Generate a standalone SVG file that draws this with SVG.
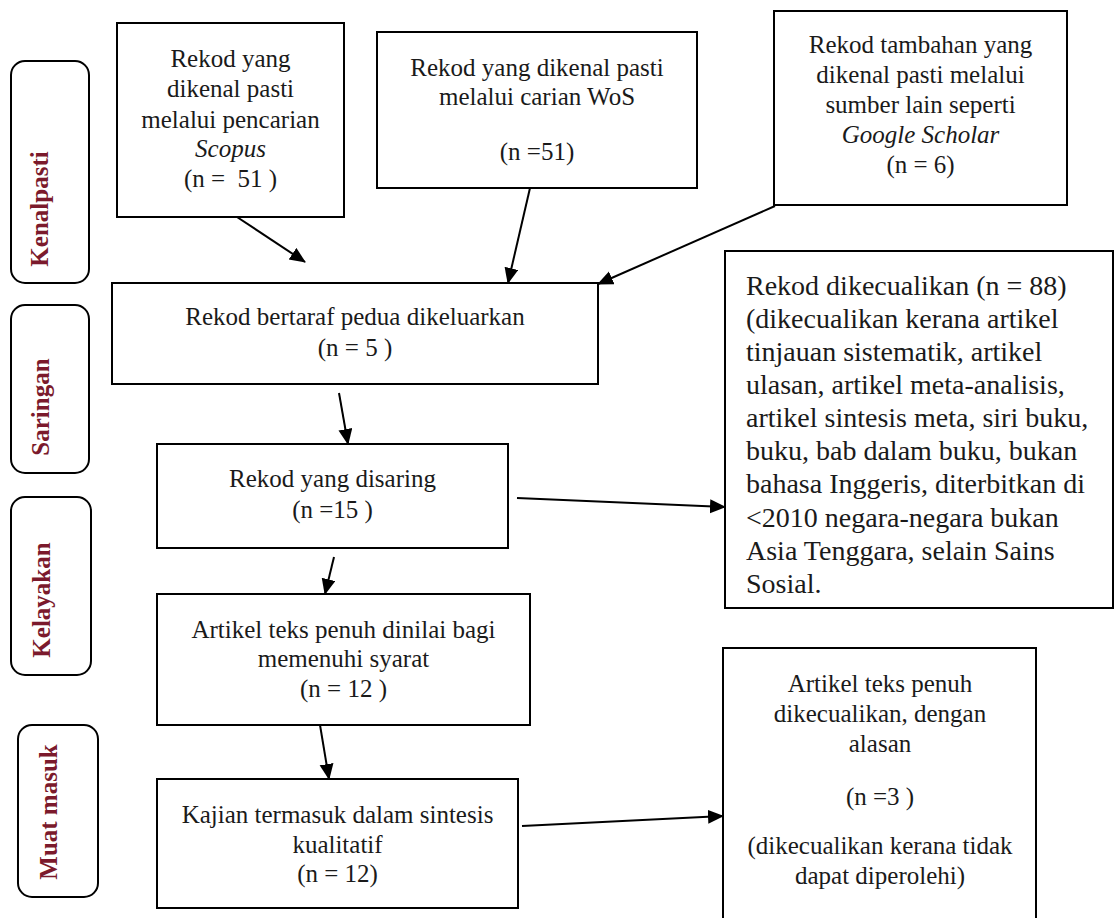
<svg xmlns="http://www.w3.org/2000/svg" width="1114" height="918" viewBox="0 0 1114 918">
<defs>
<marker id="ah" markerUnits="userSpaceOnUse" markerWidth="17" markerHeight="15" refX="15" refY="7" orient="auto">
<path d="M0,0 L16,7 L0,14 Z" fill="#000"/>
</marker>
<style>
.box{fill:#fff;stroke:#000;stroke-width:2}
.lab{fill:#fff;stroke:#000;stroke-width:2}
.t{font-family:"Liberation Serif","Times New Roman",serif;font-size:25px;fill:#1a1a1a;text-anchor:middle;white-space:pre}
.t7{font-family:"Liberation Serif","Times New Roman",serif;font-size:28px;fill:#1a1a1a}
.lt{font-family:"Liberation Serif","Times New Roman",serif;font-size:25px;font-weight:bold;fill:#7b1a2c;text-anchor:middle}
.c{stroke:#000;stroke-width:2;fill:none;marker-end:url(#ah)}
</style>
</defs>
<rect width="1114" height="918" fill="#fff"/>

<g id="label-kenalpasti">
<rect class="lab" x="11" y="61" width="78" height="222" rx="14"/>
<text class="lt" transform="translate(48,209) rotate(-90)">Kenalpasti</text>
</g>
<g id="label-saringan">
<rect class="lab" x="11" y="305" width="78" height="168" rx="14"/>
<text class="lt" transform="translate(49,407) rotate(-90)">Saringan</text>
</g>
<g id="label-kelayakan">
<rect class="lab" x="11" y="497" width="80" height="178" rx="14"/>
<text class="lt" transform="translate(50,600) rotate(-90)">Kelayakan</text>
</g>
<g id="label-muat-masuk">
<rect class="lab" x="18" y="725" width="80" height="172" rx="14"/>
<text class="lt" transform="translate(57,812) rotate(-90)">Muat masuk</text>
</g>

<g id="box-scopus">
<rect class="box" x="117" y="23" width="227" height="194"/>
<text class="t" x="230.5" y="67">Rekod yang</text>
<text class="t" x="230.5" y="97">dikenal pasti</text>
<text class="t" x="230.5" y="128">melalui pencarian</text>
<text class="t" x="230.5" y="157" font-style="italic">Scopus</text>
<text class="t" x="230.5" y="187">(n =  51 )</text>
</g>
<g id="box-wos">
<rect class="box" x="377" y="32" width="320" height="156"/>
<text class="t" x="537" y="76">Rekod yang dikenal pasti</text>
<text class="t" x="537" y="105">melalui carian WoS</text>
<text class="t" x="537" y="160">(n =51)</text>
</g>
<g id="box-google-scholar">
<rect class="box" x="774" y="11" width="293" height="194"/>
<text class="t" x="920.5" y="53">Rekod tambahan yang</text>
<text class="t" x="920.5" y="83">dikenal pasti melalui</text>
<text class="t" x="920.5" y="113">sumber lain seperti</text>
<text class="t" x="920.5" y="143" font-style="italic">Google Scholar</text>
<text class="t" x="920.5" y="173">(n = 6)</text>
</g>
<g id="box-duplicates">
<rect class="box" x="112" y="283" width="486" height="101"/>
<text class="t" x="355" y="325">Rekod bertaraf pedua dikeluarkan</text>
<text class="t" x="355" y="356">(n = 5 )</text>
</g>
<g id="box-screened">
<rect class="box" x="157" y="444" width="351" height="104"/>
<text class="t" x="332.5" y="487">Rekod yang disaring</text>
<text class="t" x="332.5" y="518">(n =15 )</text>
</g>
<g id="box-excluded">
<rect class="box" x="725" y="251" width="388" height="357"/>
<text class="t7" x="746" y="295">Rekod dikecualikan (n = 88)</text>
<text class="t7" x="746" y="328">(dikecualikan kerana artikel</text>
<text class="t7" x="746" y="361">tinjauan sistematik, artikel</text>
<text class="t7" x="746" y="394">ulasan, artikel meta-analisis,</text>
<text class="t7" x="746" y="427">artikel sintesis meta, siri buku,</text>
<text class="t7" x="746" y="460">buku, bab dalam buku, bukan</text>
<text class="t7" x="746" y="493">bahasa Inggeris, diterbitkan di</text>
<text class="t7" x="746" y="527">&lt;2010 negara-negara bukan</text>
<text class="t7" x="746" y="560">Asia Tenggara, selain Sains</text>
<text class="t7" x="746" y="593">Sosial.</text>
</g>
<g id="box-eligibility">
<rect class="box" x="157" y="594" width="373" height="131"/>
<text class="t" x="343.5" y="638">Artikel teks penuh dinilai bagi</text>
<text class="t" x="343.5" y="667">memenuhi syarat</text>
<text class="t" x="343.5" y="697">(n = 12 )</text>
</g>
<g id="box-included">
<rect class="box" x="157" y="779" width="361" height="129"/>
<text class="t" x="337.5" y="823">Kajian termasuk dalam sintesis</text>
<text class="t" x="337.5" y="853">kualitatif</text>
<text class="t" x="337.5" y="882">(n = 12)</text>
</g>
<g id="box-fulltext-excluded">
<rect class="box" x="723" y="648" width="313" height="290"/>
<text class="t" x="880" y="692">Artikel teks penuh</text>
<text class="t" x="880" y="722">dikecualikan, dengan</text>
<text class="t" x="880" y="752">alasan</text>
<text class="t" x="880" y="805">(n =3 )</text>
<text class="t" x="880" y="854">(dikecualikan kerana tidak</text>
<text class="t" x="880" y="884">dapat diperolehi)</text>
</g>

<g id="connectors">
<line class="c" x1="237" y1="217" x2="305" y2="262"/>
<line class="c" x1="530" y1="188" x2="508" y2="283"/>
<line class="c" x1="775" y1="206" x2="598" y2="284"/>
<line class="c" x1="339" y1="393" x2="348" y2="444"/>
<line class="c" x1="334" y1="557" x2="325" y2="594"/>
<line class="c" x1="517" y1="498" x2="725" y2="507"/>
<line class="c" x1="320" y1="725" x2="329" y2="779"/>
<line class="c" x1="522" y1="826" x2="723" y2="816"/>
</g>
</svg>
